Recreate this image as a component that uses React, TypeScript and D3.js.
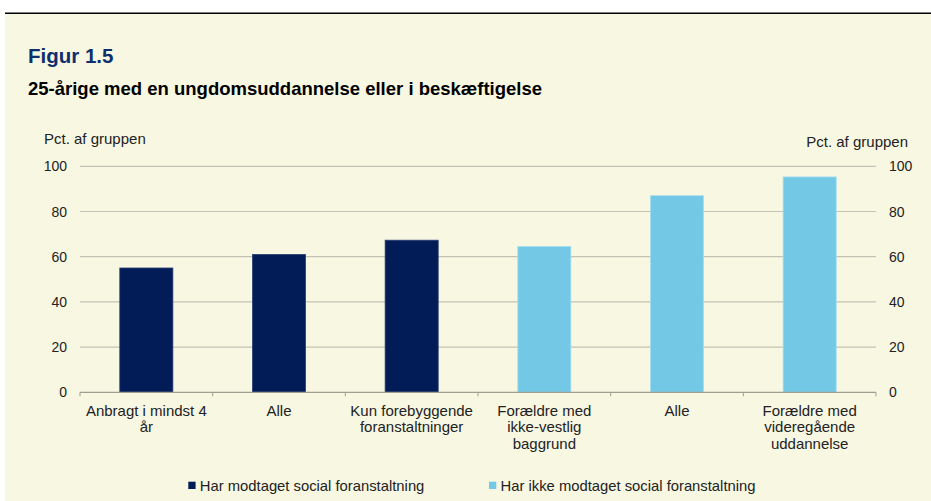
import React from "react";
import * as d3 from "d3";

const categories: string[][] = [
  ["Anbragt i mindst 4", "år"],
  ["Alle"],
  ["Kun forebyggende", "foranstaltninger"],
  ["Forældre med", "ikke-vestlig", "baggrund"],
  ["Alle"],
  ["Forældre med", "videregående", "uddannelse"],
];
const values: number[] = [55, 61, 67.3, 64.5, 87, 95.3];
const seriesIndex: number[] = [0, 0, 0, 1, 1, 1];
const seriesNames: string[] = [
  "Har modtaget social foranstaltning",
  "Har ikke modtaget social foranstaltning",
];
const seriesColors: string[] = ["#021c58", "#73c8e6"];
const seriesStroke: string[] = ["#2a3f73", "#a6def0"];
const yTicks: number[] = [0, 20, 40, 60, 80, 100];

export default function App() {
  const W = 931;
  const H = 501;
  const left = 80;
  const right = 876;
  const top = 166.3;
  const bottom = 392.3;
  const font = "'Liberation Sans', Arial, sans-serif";

  const x = d3
    .scaleBand<number>()
    .domain(d3.range(categories.length))
    .range([left, right])
    .paddingInner(0.6)
    .paddingOuter(0.3);
  const y = d3.scaleLinear().domain([0, 100]).range([bottom, top]);
  const step = (right - left) / categories.length;
  const boundaries = d3.range(categories.length + 1).map((i) => left + i * step);

  return (
    <svg
      width={W}
      height={H}
      style={{ position: "absolute", left: 0, top: 0, display: "block" }}
      fontFamily={font}
    >
      <rect x={0} y={0} width={W} height={H} fill="#ffffff" />
      <rect x={5} y={14} width={W - 5} height={H - 14} fill="#f8f7e2" />
      <line x1={5} x2={W} y1={13.3} y2={13.3} stroke="#000" strokeWidth={1.6} />

      <text x={28} y={63} fontSize={20.5} fontWeight="bold" fill="#0e2f6e">
        Figur 1.5
      </text>
      <text x={28} y={95} fontSize={18.5} fontWeight="bold" fill="#000">
        25-årige med en ungdomsuddannelse eller i beskæftigelse
      </text>

      <text x={44} y={144} fontSize={15} fill="#222">
        Pct. af gruppen
      </text>
      <text x={908} y={147} fontSize={15} fill="#222" textAnchor="end">
        Pct. af gruppen
      </text>

      {yTicks.map((t) => (
        <g key={t}>
          {t > 0 && (
            <line x1={left} x2={right} y1={y(t)} y2={y(t)} stroke="#c4c2b4" strokeWidth={1.2} />
          )}
          <text x={67} y={y(t) + 5} fontSize={14} fill="#222" textAnchor="end">
            {t}
          </text>
          <text x={889} y={y(t) + 5} fontSize={14} fill="#222">
            {t}
          </text>
        </g>
      ))}

      {values.map((v, i) => (
        <rect
          key={i}
          x={x(i)!}
          y={y(v)}
          width={x.bandwidth()}
          height={y(0) - y(v)}
          fill={seriesColors[seriesIndex[i]]}
          stroke={seriesStroke[seriesIndex[i]]}
          strokeWidth={0.8}
        />
      ))}

      <line x1={left} x2={right} y1={bottom} y2={bottom} stroke="#a09e92" strokeWidth={1.2} />
      {boundaries.map((b, i) => (
        <line key={i} x1={b} x2={b} y1={bottom} y2={bottom + 4} stroke="#a09e92" strokeWidth={1} />
      ))}

      {categories.map((lines, i) => (
        <text
          key={i}
          x={x(i)! + x.bandwidth() / 2}
          y={415.5}
          fontSize={15}
          fill="#222"
          textAnchor="middle"
        >
          {lines.map((l, j) => (
            <tspan key={j} x={x(i)! + x.bandwidth() / 2} dy={j === 0 ? 0 : 16.7}>
              {l}
            </tspan>
          ))}
        </text>
      ))}

      {seriesNames.map((name, i) => {
        const lx = i === 0 ? 188.3 : 489;
        return (
          <g key={i}>
            <rect x={lx} y={481.7} width={7.3} height={7.3} fill={seriesColors[i]} />
            <text x={lx + 11.5} y={491} fontSize={14.8} fill="#222">
              {name}
            </text>
          </g>
        );
      })}
    </svg>
  );
}
